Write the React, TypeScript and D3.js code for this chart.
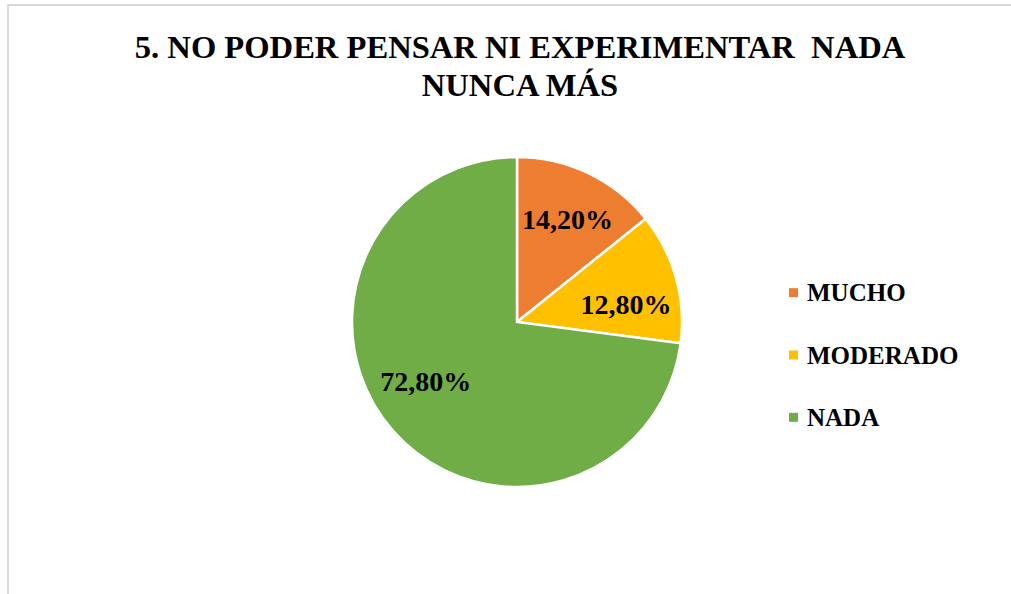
import { useMemo } from "react";
import * as d3 from "d3";

const categories = ["MUCHO", "MODERADO", "NADA"];
const values = [14.2, 12.8, 72.8];
const labels = ["14,20%", "12,80%", "72,80%"];
const colors = ["#ED7D31", "#FFC000", "#70AD47"];

const WIDTH = 1011;
const HEIGHT = 594;
const CX = 517;
const CY = 322;
const RADIUS = 165;
const FONT = "'Times New Roman', 'Liberation Serif', 'DejaVu Serif', serif";

// small nudges so the labels sit where Excel's "best fit" put them
const labelNudge: [number, number][] = [[2, -1], [1, 13], [-7, -14]];

export default function App() {
  const slices = useMemo(() => {
    const pieGenerator = d3.pie<number>().sort(null).value((d) => d);
    return pieGenerator(values);
  }, []);

  const arcPath = d3.arc<d3.PieArcDatum<number>>().innerRadius(0).outerRadius(RADIUS);
  const labelArc = d3.arc<d3.PieArcDatum<number>>().innerRadius(RADIUS * 0.68).outerRadius(RADIUS * 0.68);

  const legendY = d3.scaleBand<string>().domain(categories).range([262, 449]);

  return (
    <svg
      width={WIDTH}
      height={HEIGHT}
      style={{ position: "absolute", left: 0, top: 0, background: "#fff", fontFamily: FONT, fontWeight: 700 }}
    >
      <rect x={8} y={5} width={1100} height={700} fill="#fff" stroke="#d9d9d9" strokeWidth={2} />
      <text x={520} textAnchor="middle" fontSize={32.6} fill="#000">
        <tspan x={520} y={58} style={{ whiteSpace: "pre" }}>5. NO PODER PENSAR NI EXPERIMENTAR  NADA</tspan>
        <tspan x={520} y={96}>NUNCA MÁS</tspan>
      </text>
      <g transform={`translate(${CX}, ${CY})`}>
        {slices.map((s, i) => (
          <path key={i} d={arcPath(s) ?? ""} fill={colors[i]} stroke="#fff" strokeWidth={2.5} />
        ))}
        {slices.map((s, i) => {
          const [x, y] = labelArc.centroid(s);
          return (
            <text
              key={i}
              x={x + labelNudge[i][0]}
              y={y + 9 + labelNudge[i][1]}
              textAnchor="middle"
              fontSize={28}
              fill="#000"
            >
              {labels[i]}
            </text>
          );
        })}
      </g>
      {categories.map((c, i) => {
        const y = (legendY(c) ?? 0) + legendY.bandwidth() / 2;
        return (
          <g key={c}>
            <rect x={789} y={y - 5} width={9} height={9} fill={colors[i]} />
            <text x={807} y={y + 8} fontSize={25} fill="#000">
              {c}
            </text>
          </g>
        );
      })}
    </svg>
  );
}
